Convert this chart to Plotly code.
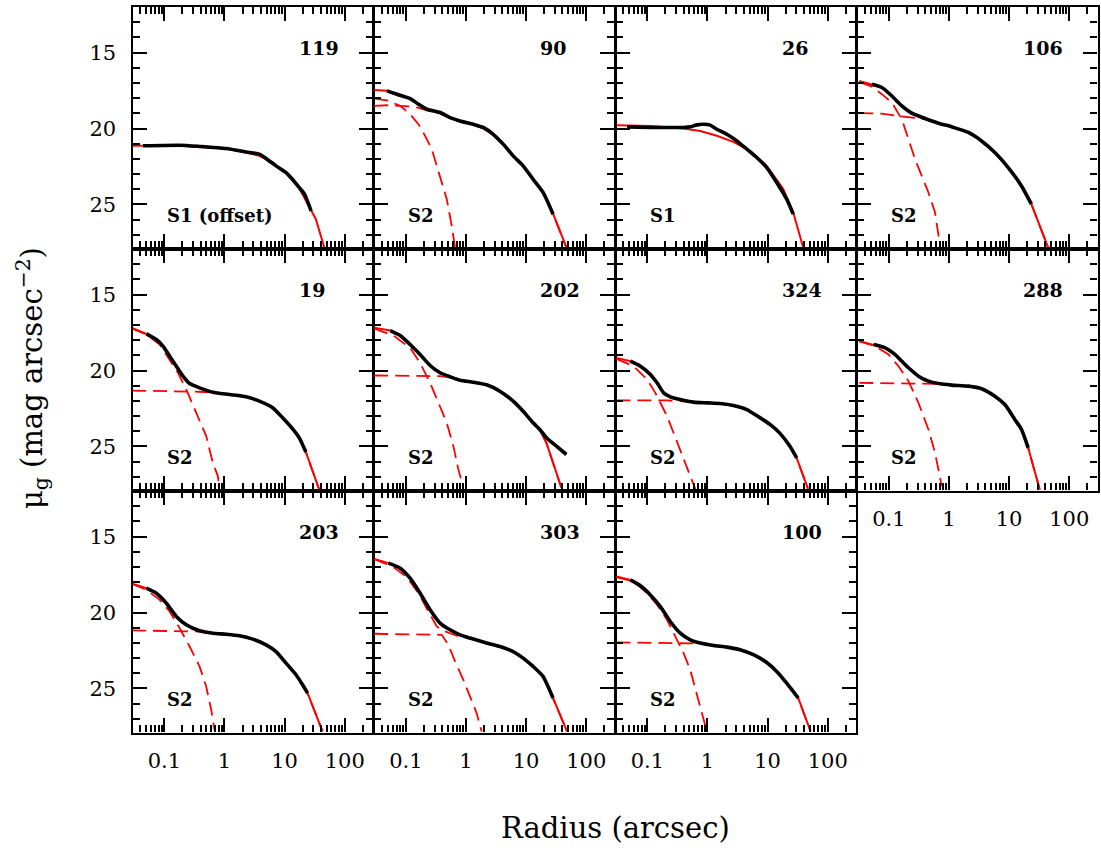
import plotly.graph_objects as go

FONT = "DejaVu Serif"
FIG_W, FIG_H = 1101, 850
COL_LEFT = [132.5, 374.0, 615.5, 857.0]
COL_WIDTH = 240.5
ROW_TOP = [7.0, 249.0, 491.0]
ROW_HEIGHT = 241.5

X_RANGE_LOG = [-1.53, 2.47]
Y_RANGE = [27.9, 12.0]
X_TICKS = [0.1, 1, 10, 100]
X_TICK_TEXT = ["0.1", "1", "10", "100"]
Y_TICKS = [15, 20, 25]
Y_TICK_TEXT = ["15", "20", "25"]
X_MINOR = [d * 10.0 ** e for e in range(-2, 3) for d in range(2, 10)]
Y_MINOR = [v for v in range(13, 28) if v % 5 != 0]

# ---------------- panel 119 ----------------
G119_R = [0.0442, 0.1795, 0.3846, 1.067, 2.291, 3.802, 4.898, 7.194, 10.47, 13.49, 17.38, 21.38, 25.70, 27.54]
G119_MU = [21.14, 21.10, 21.18, 21.32, 21.54, 21.69, 21.97, 22.46, 22.89, 23.34, 23.88, 24.32, 25.09, 25.42]
G119_MOD_R = [0.0295, 0.1795, 1.067, 2.291, 3.802, 4.898, 7.194, 10.47, 17.38, 25.70, 33.11, 45.71]
G119_MOD_MU = [21.14, 21.13, 21.33, 21.58, 21.80, 22.02, 22.50, 22.93, 23.90, 25.10, 25.97, 27.83]

# ---------------- panel 90 ----------------
G90_R = [0.0484, 0.0708, 0.1178, 0.1622, 0.2228, 0.3707, 0.5433, 0.7943, 1.321, 1.936, 2.838, 4.159, 6.081, 8.913, 13.06, 19.14, 28.05]
G90_MU = [17.52, 17.74, 18.03, 18.40, 18.73, 18.95, 19.28, 19.50, 19.72, 19.93, 20.38, 21.03, 21.80, 22.46, 23.34, 24.21, 25.64]
G90_MOD_R = [0.0298, 0.0484, 0.0708, 0.1178, 0.1622, 0.2228, 0.3707, 0.5433, 0.7943, 1.321, 1.936, 2.838, 4.159, 6.081, 8.913, 13.06, 19.14, 28.05, 46.77]
G90_MOD_MU = [17.46, 17.52, 17.74, 18.03, 18.40, 18.73, 18.97, 19.30, 19.52, 19.74, 19.98, 20.42, 21.05, 21.80, 22.46, 23.34, 24.21, 25.60, 27.83]
G90_C1_R = [0.0298, 0.0484, 0.0804, 0.1178, 0.1622, 0.2089, 0.2698, 0.3707, 0.4786, 0.5794, 0.6577]
G90_C1_MU = [18.03, 18.14, 18.51, 19.06, 19.72, 20.48, 21.36, 23.12, 24.65, 26.41, 27.83]
G90_C2_R = [0.0298, 0.0484, 0.0804, 0.1337, 0.2228, 0.3707, 0.5433, 0.7943, 1.321, 1.936, 2.838, 4.159, 6.081, 8.913, 13.06, 19.14, 28.05, 46.77]
G90_C2_MU = [18.51, 18.47, 18.51, 18.55, 18.80, 19.00, 19.32, 19.54, 19.76, 20.00, 20.44, 21.07, 21.82, 22.48, 23.36, 24.23, 25.62, 27.83]

# ---------------- panel 26 ----------------
G26_R = [0.0460, 0.1122, 0.2123, 0.4009, 0.5164, 0.6668, 0.8590, 1.109, 1.432, 2.099, 3.076, 4.498, 6.592, 9.661, 14.16, 20.75, 26.67]
G26_MU = [19.89, 19.93, 19.93, 19.93, 19.89, 19.76, 19.72, 19.78, 20.05, 20.38, 20.82, 21.36, 21.91, 22.57, 23.55, 24.65, 25.64]
G26_MOD_R = [0.0306, 0.1122, 0.4009, 0.7568, 1.432, 2.698, 5.105, 9.661, 18.20, 26.67, 39.08]
G26_MOD_MU = [19.78, 19.83, 20.00, 20.16, 20.48, 20.88, 21.47, 22.46, 23.99, 25.53, 27.83]

# ---------------- panel 106 ----------------
G106_R = [0.0522, 0.0766, 0.1122, 0.1644, 0.2404, 0.3999, 0.6668, 1.109, 2.099, 3.483, 5.794, 9.661, 16.07, 23.50]
G106_MU = [17.09, 17.30, 17.86, 18.51, 18.99, 19.34, 19.65, 19.89, 20.26, 20.82, 21.58, 22.57, 23.78, 24.98]
G106_MOD_R = [0.0322, 0.0522, 0.0766, 0.1122, 0.1644, 0.2404, 0.3999, 0.6668, 1.109, 2.099, 3.483, 5.794, 9.661, 16.07, 23.50, 44.46]
G106_MOD_MU = [16.87, 17.09, 17.30, 17.86, 18.51, 18.99, 19.34, 19.65, 19.89, 20.26, 20.82, 21.58, 22.57, 23.78, 24.98, 27.83]
G106_C1_R = [0.0322, 0.0522, 0.0766, 0.1122, 0.1644, 0.2123, 0.2729, 0.3524, 0.4550, 0.5861, 0.6668, 0.7096]
G106_C1_MU = [16.93, 17.24, 17.74, 18.29, 19.39, 20.70, 22.02, 23.12, 24.21, 25.53, 26.84, 27.72]
G106_C2_R = [0.0322, 0.0766, 0.1358, 0.2123, 0.3999, 0.6668, 1.109, 2.099, 3.483, 5.794, 9.661, 16.07, 23.50, 44.46]
G106_C2_MU = [18.99, 19.02, 19.17, 19.25, 19.38, 19.67, 19.91, 20.28, 20.84, 21.60, 22.59, 23.80, 25.00, 27.83]

# ---------------- panel 19 ----------------
G19_R = [0.0502, 0.0736, 0.0948, 0.1225, 0.1581, 0.2037, 0.2630, 0.3846, 0.6397, 1.211, 2.291, 3.802, 6.324, 9.268, 13.58, 17.54, 22.59]
G19_MU = [17.59, 17.96, 18.40, 19.06, 19.72, 20.37, 20.86, 21.14, 21.43, 21.58, 21.73, 22.02, 22.45, 23.11, 23.84, 24.43, 25.37]
G19_MOD_R = [0.0290, 0.0502, 0.0736, 0.0948, 0.1225, 0.1581, 0.2037, 0.2630, 0.3846, 0.6397, 1.211, 2.291, 3.802, 6.324, 9.268, 13.58, 17.54, 22.59, 37.58]
G19_MOD_MU = [17.19, 17.59, 17.96, 18.40, 19.06, 19.72, 20.37, 20.86, 21.14, 21.43, 21.58, 21.73, 22.02, 22.45, 23.11, 23.84, 24.43, 25.37, 27.83]
G19_C1_R = [0.0290, 0.0502, 0.0836, 0.1225, 0.1683, 0.2312, 0.3388, 0.4966, 0.6397, 0.7745, 0.8260]
G19_C1_MU = [17.24, 17.63, 18.29, 19.28, 20.15, 21.25, 22.78, 24.32, 26.07, 26.95, 27.72]
G19_C2_R = [0.0290, 0.2312, 0.3846, 0.6397, 1.211, 2.291, 3.802, 6.324, 9.268, 13.58, 17.54, 22.59, 37.58]
G19_C2_MU = [21.32, 21.36, 21.40, 21.45, 21.60, 21.75, 22.04, 22.47, 23.13, 23.86, 24.45, 25.39, 27.83]

# ---------------- panel 202 ----------------
G202_R = [0.0550, 0.0804, 0.1178, 0.1726, 0.2529, 0.3707, 0.5433, 0.7943, 1.321, 2.203, 3.664, 6.081, 8.913, 13.06, 16.87, 21.78, 31.92, 46.77]
G202_MU = [17.37, 17.70, 18.29, 18.95, 19.67, 20.15, 20.41, 20.64, 20.77, 20.94, 21.36, 22.02, 22.68, 23.44, 23.88, 24.43, 24.98, 25.53]
G202_MOD_R = [0.0298, 0.0550, 0.0804, 0.1178, 0.1726, 0.2529, 0.3707, 0.5433, 0.7943, 1.321, 2.203, 3.664, 6.081, 8.913, 13.06, 16.87, 21.78, 28.05, 38.64]
G202_MOD_MU = [17.19, 17.37, 17.70, 18.29, 18.95, 19.67, 20.15, 20.41, 20.64, 20.77, 20.94, 21.36, 22.02, 22.68, 23.44, 23.90, 24.76, 26.07, 27.72]
G202_C1_R = [0.0298, 0.0624, 0.1178, 0.1726, 0.2529, 0.3707, 0.4786, 0.6166, 0.7464, 0.9036]
G202_C1_MU = [17.24, 17.70, 18.51, 19.50, 20.81, 22.35, 23.44, 24.98, 26.51, 27.72]
G202_C2_R = [0.0298, 0.3707, 0.5433, 0.7943, 1.321, 2.203, 3.664, 6.081, 8.913, 13.06, 16.87, 21.78, 28.05, 38.64]
G202_C2_MU = [20.33, 20.37, 20.45, 20.66, 20.79, 20.96, 21.38, 22.04, 22.70, 23.46, 23.92, 24.78, 26.09, 27.74]

# ---------------- panel 324 ----------------
G324_R = [0.0522, 0.0766, 0.1122, 0.1449, 0.1862, 0.2404, 0.3524, 0.5861, 0.9772, 1.626, 2.698, 4.498, 7.482, 10.96, 16.07, 23.50, 30.41]
G324_MU = [19.39, 19.72, 20.26, 20.81, 21.47, 21.73, 21.91, 22.08, 22.13, 22.17, 22.30, 22.57, 23.11, 23.55, 24.14, 24.98, 25.75]
G324_MOD_R = [0.0306, 0.0522, 0.0766, 0.1122, 0.1449, 0.1862, 0.2404, 0.3524, 0.5861, 0.9772, 1.626, 2.698, 4.498, 7.482, 10.96, 16.07, 23.50, 30.41, 47.32]
G324_MOD_MU = [19.17, 19.39, 19.72, 20.26, 20.81, 21.47, 21.73, 21.91, 22.08, 22.13, 22.17, 22.30, 22.57, 23.11, 23.55, 24.14, 24.98, 25.75, 27.83]
G324_C1_R = [0.0306, 0.0593, 0.0989, 0.1358, 0.2123, 0.2729, 0.3524, 0.4550, 0.5508, 0.6410]
G324_C1_MU = [19.23, 19.72, 20.59, 21.47, 23.00, 24.10, 25.20, 26.30, 27.17, 27.90]
G324_C2_R = [0.0306, 0.2123, 0.3524, 0.5861, 0.9772, 1.626, 2.698, 4.498, 7.482, 10.96, 16.07, 23.50, 30.41, 47.32]
G324_C2_MU = [21.97, 21.97, 22.02, 22.10, 22.15, 22.19, 22.32, 22.59, 23.13, 23.57, 24.16, 25.00, 25.77, 27.83]

# ---------------- panel 288 ----------------
G288_R = [0.0557, 0.0869, 0.1274, 0.1644, 0.2123, 0.3105, 0.4550, 0.6668, 1.109, 2.099, 3.483, 5.794, 8.492, 12.45, 16.07, 20.75]
G288_MU = [18.29, 18.51, 18.95, 19.39, 19.82, 20.37, 20.70, 20.86, 20.96, 21.03, 21.20, 21.69, 22.24, 23.22, 23.88, 25.09]
G288_MOD_R = [0.0322, 0.0557, 0.0869, 0.1274, 0.1644, 0.2123, 0.3105, 0.4550, 0.6668, 1.109, 2.099, 3.483, 5.794, 8.492, 12.45, 16.07, 20.75, 32.28]
G288_MOD_MU = [18.07, 18.29, 18.51, 18.95, 19.39, 19.82, 20.37, 20.70, 20.86, 20.96, 21.03, 21.20, 21.69, 22.24, 23.22, 23.88, 25.09, 27.83]
G288_C1_R = [0.0322, 0.0593, 0.0989, 0.1449, 0.2123, 0.3105, 0.4550, 0.5861, 0.7568]
G288_C1_MU = [18.07, 18.40, 18.95, 19.72, 20.70, 22.13, 23.88, 25.42, 27.61]
G288_C2_R = [0.0322, 0.5164, 0.6668, 1.109, 2.099, 3.483, 5.794, 8.492, 12.45, 16.07, 20.75, 32.28]
G288_C2_MU = [20.81, 20.86, 20.88, 20.98, 21.05, 21.22, 21.71, 22.26, 23.24, 23.90, 25.11, 27.83]

# ---------------- panel 203 ----------------
G203_R = [0.0502, 0.0736, 0.1079, 0.1581, 0.2312, 0.3846, 0.6397, 1.067, 1.774, 2.951, 4.909, 7.194, 10.54, 15.45, 19.91, 24.10]
G203_MU = [18.40, 18.73, 19.39, 20.26, 20.81, 21.20, 21.36, 21.43, 21.53, 21.75, 22.13, 22.57, 23.33, 24.10, 24.76, 25.31]
G203_MOD_R = [0.0290, 0.0502, 0.0736, 0.1079, 0.1581, 0.2312, 0.3846, 0.6397, 1.067, 1.774, 2.951, 4.909, 7.194, 10.54, 15.45, 19.91, 24.10, 42.76]
G203_MOD_MU = [18.11, 18.40, 18.73, 19.39, 20.26, 20.81, 21.20, 21.36, 21.43, 21.53, 21.75, 22.13, 22.57, 23.33, 24.10, 24.76, 25.31, 27.83]
G203_C1_R = [0.0290, 0.0502, 0.0836, 0.1225, 0.1795, 0.2630, 0.3846, 0.4966, 0.6012, 0.6823]
G203_C1_MU = [18.11, 18.51, 19.17, 19.93, 21.03, 22.24, 23.55, 24.87, 26.40, 27.72]
G203_C2_R = [0.0290, 0.3846, 0.5636, 1.067, 1.774, 2.951, 4.909, 7.194, 10.54, 15.45, 19.91, 24.10, 42.76]
G203_C2_MU = [21.18, 21.25, 21.34, 21.45, 21.55, 21.77, 22.15, 22.59, 23.35, 24.12, 24.78, 25.33, 27.83]

# ---------------- panel 303 ----------------
G303_R = [0.0515, 0.0804, 0.1178, 0.1726, 0.2529, 0.3707, 0.5433, 0.7943, 1.321, 2.203, 3.664, 6.081, 8.913, 13.06, 19.14, 28.05]
G303_MU = [16.75, 17.08, 17.74, 18.73, 19.82, 20.70, 21.14, 21.47, 21.75, 22.01, 22.24, 22.57, 23.00, 23.55, 24.21, 25.63]
G303_MOD_R = [0.0298, 0.0515, 0.0804, 0.1178, 0.1726, 0.2529, 0.3707, 0.5433, 0.7943, 1.321, 2.203, 3.664, 6.081, 8.913, 13.06, 19.14, 28.05, 47.97]
G303_MOD_MU = [16.47, 16.75, 17.08, 17.74, 18.73, 19.82, 20.70, 21.14, 21.47, 21.75, 22.01, 22.24, 22.57, 23.00, 23.55, 24.21, 25.63, 27.83]
G303_C1_R = [0.0298, 0.0624, 0.1038, 0.1622, 0.2371, 0.3266, 0.4207, 0.7015, 1.026, 1.321, 2.203, 3.664, 6.081, 8.913, 13.06, 19.14, 28.05, 47.97]
G303_C1_MU = [16.49, 17.01, 17.67, 18.73, 19.93, 20.92, 21.20, 21.53, 21.68, 21.77, 22.03, 22.26, 22.59, 23.02, 23.57, 24.23, 25.65, 27.83]
G303_C2_R = [0.0298, 0.3954, 0.5093, 0.6577, 0.9036, 1.164, 1.503, 1.820]
G303_C2_MU = [21.40, 21.47, 22.13, 23.22, 24.43, 25.53, 26.62, 27.83]

# ---------------- panel 100 ----------------
G100_R = [0.0522, 0.0766, 0.1122, 0.1644, 0.2404, 0.3524, 0.5164, 0.7568, 1.259, 2.099, 3.483, 5.794, 9.661, 14.16, 20.75, 32.28]
G100_MU = [17.85, 18.24, 18.84, 19.61, 20.59, 21.36, 21.80, 22.01, 22.17, 22.28, 22.45, 22.78, 23.29, 23.88, 24.65, 25.63]
G100_MOD_R = [0.0306, 0.0522, 0.0766, 0.1122, 0.1644, 0.2404, 0.3524, 0.5164, 0.7568, 1.259, 2.099, 3.483, 5.794, 9.661, 14.16, 20.75, 32.28, 51.88]
G100_MOD_MU = [17.63, 17.85, 18.24, 18.84, 19.61, 20.59, 21.36, 21.80, 22.01, 22.17, 22.28, 22.45, 22.78, 23.29, 23.88, 24.65, 25.63, 27.83]
G100_C1_R = [0.0306, 0.0593, 0.0989, 0.1449, 0.2123, 0.2911, 0.3999, 0.5164, 0.6668, 0.8072, 0.9772]
G100_C1_MU = [17.67, 17.96, 18.73, 19.49, 20.48, 21.58, 22.67, 23.77, 25.31, 26.62, 27.83]
G100_C2_R = [0.0306, 0.3999, 0.5164, 0.7568, 1.259, 2.099, 3.483, 5.794, 9.661, 14.16, 20.75, 32.28, 51.88]
G100_C2_MU = [21.97, 22.01, 22.05, 22.04, 22.19, 22.30, 22.47, 22.80, 23.31, 23.90, 24.67, 25.65, 27.83]

PANEL_IDS = ["119", "90", "26", "106", "19", "202", "324", "288", "203", "303", "100"]
PANEL_TYPES = ["S1 (offset)", "S2", "S1", "S2", "S2", "S2", "S2", "S2", "S2", "S2", "S2"]
PANEL_ROWS = [0, 0, 0, 0, 1, 1, 1, 1, 2, 2, 2]
PANEL_COLS = [0, 1, 2, 3, 0, 1, 2, 3, 0, 1, 2]
XLABEL_PANELS = ["288", "203", "303", "100"]

PANEL_DATA = {
    "119": (G119_R, G119_MU, G119_MOD_R, G119_MOD_MU, []),
    "90": (G90_R, G90_MU, G90_MOD_R, G90_MOD_MU, [(G90_C1_R, G90_C1_MU), (G90_C2_R, G90_C2_MU)]),
    "26": (G26_R, G26_MU, G26_MOD_R, G26_MOD_MU, []),
    "106": (G106_R, G106_MU, G106_MOD_R, G106_MOD_MU, [(G106_C1_R, G106_C1_MU), (G106_C2_R, G106_C2_MU)]),
    "19": (G19_R, G19_MU, G19_MOD_R, G19_MOD_MU, [(G19_C1_R, G19_C1_MU), (G19_C2_R, G19_C2_MU)]),
    "202": (G202_R, G202_MU, G202_MOD_R, G202_MOD_MU, [(G202_C1_R, G202_C1_MU), (G202_C2_R, G202_C2_MU)]),
    "324": (G324_R, G324_MU, G324_MOD_R, G324_MOD_MU, [(G324_C1_R, G324_C1_MU), (G324_C2_R, G324_C2_MU)]),
    "288": (G288_R, G288_MU, G288_MOD_R, G288_MOD_MU, [(G288_C1_R, G288_C1_MU), (G288_C2_R, G288_C2_MU)]),
    "203": (G203_R, G203_MU, G203_MOD_R, G203_MOD_MU, [(G203_C1_R, G203_C1_MU), (G203_C2_R, G203_C2_MU)]),
    "303": (G303_R, G303_MU, G303_MOD_R, G303_MOD_MU, [(G303_C1_R, G303_C1_MU), (G303_C2_R, G303_C2_MU)]),
    "100": (G100_R, G100_MU, G100_MOD_R, G100_MOD_MU, [(G100_C1_R, G100_C1_MU), (G100_C2_R, G100_C2_MU)]),
}

fig = go.Figure()
layout_axes = {}
annotations = []

for i, pid in enumerate(PANEL_IDS):
    n = i + 1
    xname = "x" if n == 1 else f"x{n}"
    yname = "y" if n == 1 else f"y{n}"
    row, col = PANEL_ROWS[i], PANEL_COLS[i]
    r_d, mu_d, r_m, mu_m, comps = PANEL_DATA[pid]

    for cr, cmu in comps:
        fig.add_trace(go.Scatter(x=cr, y=cmu, mode="lines", xaxis=xname, yaxis=yname,
                                 line=dict(color="#ff0000", width=1.8, dash="14px,7px"),
                                 showlegend=False, hoverinfo="skip"))
    fig.add_trace(go.Scatter(x=r_m, y=mu_m, mode="lines", xaxis=xname, yaxis=yname,
                             line=dict(color="#ff0000", width=2),
                             showlegend=False, hoverinfo="skip"))
    fig.add_trace(go.Scatter(x=r_d, y=mu_d, mode="lines", xaxis=xname, yaxis=yname,
                             line=dict(color="black", width=3.6, shape="spline", smoothing=0.6),
                             showlegend=False, hoverinfo="skip"))

    x0 = COL_LEFT[col] / FIG_W
    x1 = (COL_LEFT[col] + COL_WIDTH) / FIG_W
    y1 = 1 - ROW_TOP[row] / FIG_H
    y0 = 1 - (ROW_TOP[row] + ROW_HEIGHT) / FIG_H

    common = dict(showgrid=False, zeroline=False, showline=True, linecolor="black",
                  linewidth=2.2, mirror="allticks", ticks="inside", ticklen=14,
                  tickwidth=2, tickcolor="black",
                  tickfont=dict(family=FONT, size=21, color="black"))

    layout_axes["xaxis" if n == 1 else f"xaxis{n}"] = dict(
        common, domain=[x0, x1], anchor=yname, type="log", range=X_RANGE_LOG,
        tickmode="array", tickvals=X_TICKS, ticktext=X_TICK_TEXT,
        showticklabels=pid in XLABEL_PANELS, ticklabelstandoff=8,
        minor=dict(ticks="inside", ticklen=7, tickwidth=1.6, tickcolor="black",
                   tickmode="array", tickvals=X_MINOR, showgrid=False))
    layout_axes["yaxis" if n == 1 else f"yaxis{n}"] = dict(
        common, domain=[y0, y1], anchor=xname, range=Y_RANGE,
        tickmode="array", tickvals=Y_TICKS, ticktext=Y_TICK_TEXT,
        showticklabels=(col == 0), ticklabelstandoff=10,
        minor=dict(ticks="inside", ticklen=7, tickwidth=1.6, tickcolor="black",
                   tickmode="array", tickvals=Y_MINOR, showgrid=False))

    annotations.append(dict(text=pid, xref=f"{xname} domain", yref=f"{yname} domain",
                            x=164 / COL_WIDTH, y=1 - 41 / ROW_HEIGHT, xanchor="left", yanchor="middle",
                            showarrow=False, font=dict(family=FONT, size=19, color="black", weight="bold")))
    annotations.append(dict(text=PANEL_TYPES[i], xref=f"{xname} domain", yref=f"{yname} domain",
                            x=32 / COL_WIDTH, y=1 - 208 / ROW_HEIGHT, xanchor="left", yanchor="middle",
                            showarrow=False, font=dict(family=FONT, size=18, color="black", weight="bold")))

annotations.append(dict(text="Radius (arcsec)", xref="paper", yref="paper",
                        x=615 / FIG_W, y=1 - 828 / FIG_H, xanchor="center", yanchor="middle",
                        showarrow=False, font=dict(family=FONT, size=29, color="black")))
annotations.append(dict(text="μ<sub>g</sub> (mag arcsec<sup>−2</sup>)", xref="paper", yref="paper",
                        x=32 / FIG_W, y=1 - 378 / FIG_H, xanchor="center", yanchor="middle",
                        textangle=-90, showarrow=False, font=dict(family=FONT, size=29, color="black")))

fig.update_layout(width=FIG_W, height=FIG_H, margin=dict(l=0, r=0, t=0, b=0),
                  paper_bgcolor="white", plot_bgcolor="white", showlegend=False,
                  annotations=annotations, **layout_axes)

fig.write_html("out.html")
